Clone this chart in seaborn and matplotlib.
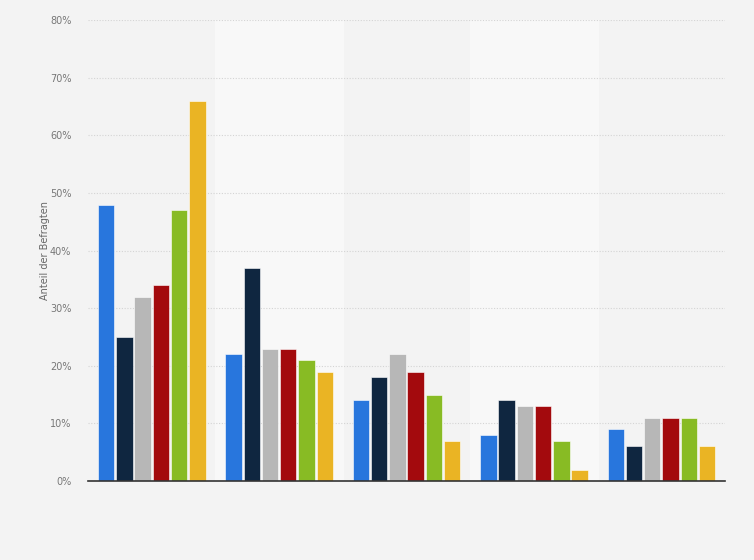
import pandas as pd
import matplotlib.pyplot as plt
import seaborn as sns
from matplotlib.ticker import FuncFormatter

# === DATOS ===
categorias = ['Gruppe 1', 'Gruppe 2', 'Gruppe 3', 'Gruppe 4', 'Gruppe 5']
serie_1 = [48, 22, 14, 8, 9]
serie_2 = [25, 37, 18, 14, 6]
serie_3 = [32, 23, 22, 13, 11]
serie_4 = [34, 23, 19, 13, 11]
serie_5 = [47, 21, 15, 7, 11]
serie_6 = [66, 19, 7, 2, 6]
series = ['Serie 1', 'Serie 2', 'Serie 3', 'Serie 4', 'Serie 5', 'Serie 6']
colores = ['#2876dd', '#0f2640', '#b7b7b7', '#a30a0d', '#88bb24', '#eab424']

valores = [serie_1, serie_2, serie_3, serie_4, serie_5, serie_6]
df = pd.DataFrame([
    {'Kategorie': c, 'Serie': s, 'Wert': v[i]}
    for s, v in zip(series, valores)
    for i, c in enumerate(categorias)
])

# === FIGURA ===
sns.set_style("white")
plt.rcParams['font.family'] = ['DejaVu Sans']
fig = plt.figure(figsize=(7.54, 5.6), dpi=100, facecolor='#f3f3f3')
ax = fig.add_axes([0.1167, 0.141, 0.845, 0.823])
ax.set_facecolor('#f3f3f3')

# bandas alternas
for i in (1, 3):
    ax.axvspan(i - 0.5, i + 0.5, color='#f8f8f8', zorder=0)

sns.barplot(data=df, x='Kategorie', y='Wert', hue='Serie', palette=colores,
            saturation=1, width=0.86, gap=0.1, edgecolor='#ffffff',
            linewidth=0.4, legend=False, ax=ax, zorder=3)

ax.set_xlim(-0.5, 4.5)
ax.set_ylim(0, 80)
ax.set_yticks(range(0, 81, 10))
ax.yaxis.set_major_formatter(FuncFormatter(lambda v, p: f'{int(v)}%'))
ax.grid(axis='y', color='#d4d4d4', linestyle=(0, (1, 1.5)), linewidth=0.8, zorder=1)
ax.set_axisbelow(True)
for lado in ['top', 'right', 'left']:
    ax.spines[lado].set_visible(False)
ax.spines['bottom'].set_color('#333333')
ax.spines['bottom'].set_linewidth(1.2)
ax.spines['bottom'].set_zorder(4)
ax.tick_params(axis='y', length=0, labelsize=7, labelcolor='#777777', pad=12)
ax.set_xticks([])
ax.set_xlabel('')
ax.set_ylabel('Anteil der Befragten', fontsize=7, color='#666666', labelpad=0)

plt.savefig('out.png', dpi=100, facecolor=fig.get_facecolor())
